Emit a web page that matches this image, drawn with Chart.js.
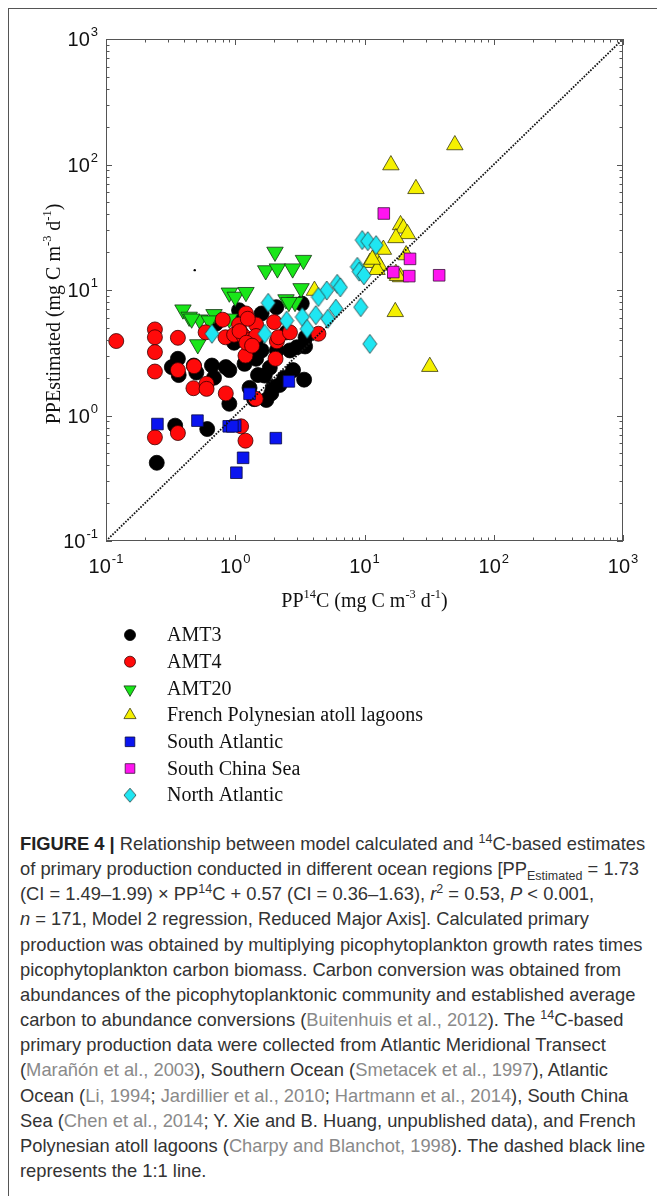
<!DOCTYPE html>
<html>
<head>
<meta charset="utf-8">
<script src="https://cdn.jsdelivr.net/npm/chart.js@4.4.1/dist/chart.umd.min.js"></script>
<style>
  html, body { margin: 0; padding: 0; background: #fff; width: 657px; height: 1196px; overflow: hidden; }
  #frame { position: absolute; left: 8px; top: 8px; width: 700px; height: 1300px;
           border-top: 1.5px solid #555; border-left: 1.5px solid #555; }
  #wrap { position: absolute; left: 0; top: 0; width: 657px; height: 820px; }
  #cap { position: absolute; left: 20px; top: 831px; font-family: "Liberation Sans", Arial, sans-serif;
         font-size: 16px; line-height: 25.15px; color: #333; white-space: nowrap; }
  #cap div { display: block; }
  #cap span.l { display: inline-block; }
  #cap .ref { color: #8a8a8a; }
  #cap b { color: #222; }
  #cap sup, #cap sub { font-size: 68%; line-height: 0; }
</style>
</head>
<body>
<div id="frame"></div>
<div id="wrap"><canvas id="grafico"></canvas></div>
<div id="cap">
  <div><span class="l"><b>FIGURE 4 |</b> Relationship between model calculated and <sup>14</sup>C-based estimates</span></div>
  <div><span class="l">of primary production conducted in different ocean regions [PP<sub>Estimated</sub> = 1.73</span></div>
  <div><span class="l">(CI = 1.49–1.99) × PP<sup>14</sup>C + 0.57 (CI = 0.36–1.63), <i>r</i><sup>2</sup> = 0.53, <i>P</i> &lt; 0.001,</span></div>
  <div><span class="l"><i>n</i> = 171, Model 2 regression, Reduced Major Axis]. Calculated primary</span></div>
  <div><span class="l" id="refline">production was obtained by multiplying picophytoplankton growth rates times</span></div>
  <div><span class="l">picophytoplankton carbon biomass. Carbon conversion was obtained from</span></div>
  <div><span class="l">abundances of the picophytoplanktonic community and established average</span></div>
  <div><span class="l">carbon to abundance conversions (<span class="ref">Buitenhuis et al., 2012</span>). The <sup>14</sup>C-based</span></div>
  <div><span class="l">primary production data were collected from Atlantic Meridional Transect</span></div>
  <div><span class="l">(<span class="ref">Marañón et al., 2003</span>), Southern Ocean (<span class="ref">Smetacek et al., 1997</span>), Atlantic</span></div>
  <div><span class="l">Ocean (<span class="ref">Li, 1994</span>; <span class="ref">Jardillier et al., 2010</span>; <span class="ref">Hartmann et al., 2014</span>), South China</span></div>
  <div><span class="l">Sea (<span class="ref">Chen et al., 2014</span>; Y. Xie and B. Huang, unpublished data), and French</span></div>
  <div><span class="l">Polynesian atoll lagoons (<span class="ref">Charpy and Blanchot, 1998</span>). The dashed black line</span></div>
  <div><span class="l">represents the 1:1 line.</span></div>
</div>
<script>
// ---- datos: [PP14C, PPEstimated] ----
const amt3 = [
  [0.247, 0.42], [0.343, 0.83], [0.607, 0.78], [0.90, 1.24], [1.74, 1.33], [1.4, 1.35],
  [3.41, 1.93], [1.96, 1.68], [1.29, 1.66], [1.69, 2.08], [1.85, 2.4], [2.4, 2.0],
  [0.36, 2.83], [0.323, 2.43], [0.365, 2.1], [0.478, 2.5], [0.50, 2.2], [0.66, 2.5],
  [0.685, 2.0], [0.845, 2.43], [0.90, 2.3], [1.18, 2.58], [1.45, 2.83], [1.5, 2.1],
  [2.65, 3.3], [3.47, 3.55], [3.0, 3.5], [2.1, 3.3], [1.6, 3.3], [1.3, 3.3], [0.98, 3.8],
  [2.08, 7.3], [3.27, 7.8], [1.07, 6.9], [1.6, 6.5], [0.71, 5.4], [1.1, 4.6], [2.5, 4.6],
  [1.45, 4.0], [3.5, 4.2], [2.2, 1.75], [1.9, 1.5], [2.8, 2.3]
];
const amt4 = [
  [0.12, 3.92], [0.239, 4.85], [0.239, 4.2], [0.239, 3.2], [0.239, 2.24], [0.239, 0.67],
  [0.36, 4.16], [0.36, 2.3], [0.36, 0.725], [0.48, 2.47], [0.475, 1.65], [0.6, 1.79],
  [0.6, 1.63], [0.845, 1.5], [1.11, 0.82], [1.2, 0.63], [1.44, 1.36], [1.2, 3.0],
  [2.05, 2.83], [2.1, 3.9], [2.15, 4.2], [2.0, 5.55], [2.65, 4.6], [4.4, 4.48],
  [1.21, 6.5], [1.45, 5.3], [1.07, 5.3], [0.84, 4.2], [0.98, 4.4], [1.16, 4.3],
  [1.29, 4.0], [1.45, 4.3], [1.08, 4.7], [1.22, 3.8], [0.59, 4.6], [0.8, 5.8],
  [1.25, 5.9], [1.35, 3.6]
];
const amt20 = [
  [2.03, 20.1], [3.37, 17.3], [1.72, 14.3], [2.12, 14.8], [2.78, 14.8], [0.90, 9.5],
  [1.0, 8.8], [1.21, 9.6], [3.23, 10.3], [2.47, 8.4], [2.9, 8.0], [0.394, 6.97],
  [0.44, 6.1], [0.53, 5.8], [0.685, 6.4], [0.63, 5.7], [0.90, 5.9], [0.513, 3.68],
  [0.46, 5.9], [2.6, 8.0]
];
const lagoons = [
  [50, 143], [16, 99], [25, 64], [19, 33], [20, 31], [21.5, 28], [17.5, 26], [14, 21],
  [21, 19], [12, 18], [11, 16.5], [13, 15.7], [12.5, 14.5], [17.5, 13.5], [19, 12.7],
  [18, 13], [4.1, 9.9], [17.3, 6.7], [32, 2.45], [11.5, 17.5]
];
const southAtlantic = [
  [2.6, 1.87], [1.29, 1.49], [0.25, 0.855], [0.51, 0.91], [0.89, 0.82], [1.0, 0.83],
  [0.95, 0.82], [2.06, 0.66], [1.15, 0.46], [1.02, 0.35]
];
const southChinaSea = [
  [14.1, 40.7], [22.5, 17.7], [16.7, 13.9], [22.2, 12.9], [37.8, 13.1]
];
const northAtlantic = [
  [9.6, 25], [10.6, 24.5], [12.3, 22.8], [8.8, 15.3], [9.1, 14], [9.9, 13.1], [6.15, 11.2],
  [6.5, 10.5], [5.1, 9.9], [4.4, 8.8], [6.0, 7.1], [9.35, 7.3], [1.8, 7.9], [3.3, 6.1],
  [4.2, 6.3], [5.2, 5.9], [2.5, 5.7], [3.6, 4.9], [1.69, 4.48], [0.66, 4.48], [11, 3.72]
];
const speck = [[0.486, 14.4]];       // punto suelto sin leyenda
const oneToOne = [0.1, 1000];        // línea 1:1
const decadas = [-1, 0, 1, 2, 3];    // exponentes de las marcas

const pts = arr => arr.map(([x, y]) => ({ x, y }));

// rombo alargado (estilo MATLAB)
function rombo(w, h, fill, stroke) {
  const c = document.createElement('canvas');
  c.width = w + 2; c.height = h + 2;
  const g = c.getContext('2d');
  g.beginPath();
  g.moveTo(c.width / 2, 1); g.lineTo(c.width - 1, c.height / 2);
  g.lineTo(c.width / 2, c.height - 1); g.lineTo(1, c.height / 2); g.closePath();
  g.fillStyle = fill; g.fill();
  g.strokeStyle = stroke; g.lineWidth = 0.8; g.stroke();
  return c;
}
const romboGrande = rombo(14, 19, '#1fe6f2', '#2a3a3a');
const romboChico = rombo(12, 14, '#1fe6f2', '#2a3a3a');

const serie = (label, data, style, fill, stroke, r, order, extra) => Object.assign({
  label, data: pts(data), pointStyle: style, backgroundColor: fill, borderColor: stroke,
  pointRadius: r, pointHoverRadius: r, pointBorderWidth: 0.8, order
}, extra || {});

const datasets = [
  { type: 'line', data: pts(oneToOne.map(v => [v, v])), borderColor: '#111', borderWidth: 1.8,
    borderDash: [1.6, 1.4], pointRadius: 0, order: 0, noLegend: true },
  serie('AMT3', amt3, 'circle', '#000000', '#000000', 7.5, 7, { legendR: 5.5 }),
  serie('AMT4', amt4, 'circle', '#ff0a0a', '#3a0000', 7.5, 5, { legendR: 5.5 }),
  serie('AMT20', amt20, 'triangle', '#19e619', '#143314', 9.5, 6, { rotation: 180, legendR: 7 }),
  serie('French Polynesian atoll lagoons', lagoons, 'triangle', '#f5f000', '#3a3a10', 9.5, 4, { legendR: 7 }),
  serie('South Atlantic', southAtlantic, 'rect', '#0a14f0', '#0a0a40', 8.2, 3, { legendR: 6.8 }),
  serie('South China Sea', southChinaSea, 'rect', '#ff14f0', '#3a103a', 8.2, 2, { legendR: 6.8 }),
  serie('North Atlantic', northAtlantic, romboGrande, '#1fe6f2', '#2a3a3a', 9, 1, { legendStyle: romboChico }),
  { label: '', data: pts(speck), pointStyle: 'circle', backgroundColor: '#000', borderColor: '#000',
    pointRadius: 1.2, pointBorderWidth: 0, order: 8, noLegend: true }
];

const SANS = '"Liberation Sans", Arial, sans-serif';
const SERIF = '"Liberation Serif", "Times New Roman", serif';

function potencia(ctx, e, x, y, align) {
  ctx.font = '20px ' + SANS;
  const w1 = ctx.measureText('10').width;
  ctx.font = '13px ' + SANS;
  const w2 = ctx.measureText(String(e)).width;
  const tot = w1 + w2 + 1;
  const x0 = align === 'right' ? x - tot : x - tot / 2;
  ctx.textAlign = 'left'; ctx.textBaseline = 'alphabetic';
  ctx.font = '20px ' + SANS; ctx.fillText('10', x0, y);
  ctx.font = '13px ' + SANS; ctx.fillText(String(e), x0 + w1 + 1, y - 10);
}

// texto con superíndices: segmentos [texto, esSup]
function rico(ctx, segs, size) {
  let w = 0;
  segs.forEach(([t, s]) => { ctx.font = (s ? size * 0.62 : size) + 'px ' + SERIF; w += ctx.measureText(t).width; });
  return w;
}
function dibujaRico(ctx, segs, size, x, y) {
  let cx = x;
  ctx.textAlign = 'left'; ctx.textBaseline = 'alphabetic';
  segs.forEach(([t, s]) => {
    ctx.font = (s ? size * 0.62 : size) + 'px ' + SERIF;
    ctx.fillText(t, cx, s ? y - size * 0.45 : y);
    cx += ctx.measureText(t).width;
  });
}

const tituloX = [['PP', false], ['14', true], ['C (mg C m', false], ['-3', true], [' d', false], ['-1', true], [')', false]];
const tituloY = [['PPEstimated (mg C m', false], ['-3', true], [' d', false], ['-1', true], [')', false]];

const ejesPlugin = {
  id: 'ejesPlugin',
  afterDraw(chart) {
    const { ctx, chartArea: a, scales: { x, y } } = chart;
    ctx.save();
    ctx.strokeStyle = '#555'; ctx.lineWidth = 1;
    ctx.strokeRect(a.left + 0.5, a.top + 0.5, a.right - a.left - 1, a.bottom - a.top - 1);
    ctx.beginPath();
    decadas.forEach(e => {
      for (let m = 1; m <= 9; m++) {
        const v = m * Math.pow(10, e);
        if (v > 1000 + 1e-6) break;
        const len = m === 1 ? 6 : 3.5;
        const px = Math.round(x.getPixelForValue(v)) + 0.5;
        const py = Math.round(y.getPixelForValue(v)) + 0.5;
        ctx.moveTo(px, a.bottom); ctx.lineTo(px, a.bottom - len);
        ctx.moveTo(px, a.top); ctx.lineTo(px, a.top + len);
        ctx.moveTo(a.left, py); ctx.lineTo(a.left + len, py);
        ctx.moveTo(a.right, py); ctx.lineTo(a.right - len, py);
      }
    });
    ctx.stroke();

    // etiquetas de las décadas
    ctx.fillStyle = '#111';
    decadas.forEach(e => {
      const v = Math.pow(10, e);
      potencia(ctx, e, x.getPixelForValue(v), a.bottom + 32, 'center');
      potencia(ctx, e, a.left - 8, y.getPixelForValue(v) + 7, 'right');
    });

    // títulos de los ejes
    const fs = 20;
    const wx = rico(ctx, tituloX, fs);
    dibujaRico(ctx, tituloX, fs, (a.left + a.right) / 2 - wx / 2, a.bottom + 66);
    const wy = rico(ctx, tituloY, fs);
    ctx.save();
    ctx.translate(60, 314);
    ctx.rotate(-Math.PI / 2);
    dibujaRico(ctx, tituloY, fs, -wy / 2, 0);
    ctx.restore();

    // leyenda propia (columna bajo el gráfico)
    let fila = 0;
    chart.data.datasets.forEach(ds => {
      if (ds.noLegend) return;
      const cy = 635 + fila * 26.7;
      ctx.fillStyle = ds.backgroundColor; ctx.strokeStyle = ds.borderColor; ctx.lineWidth = 0.8;
      Chart.helpers.drawPoint(ctx, {
        pointStyle: ds.legendStyle || ds.pointStyle, rotation: ds.rotation || 0,
        radius: ds.legendR || 6, borderWidth: 0.8
      }, 130, cy + (ds.rotation ? 1 : 0));
      ctx.fillStyle = '#111';
      ctx.font = '20px ' + SERIF; ctx.textAlign = 'left'; ctx.textBaseline = 'middle';
      ctx.fillText(ds.label, 167, cy + 1);
      fila++;
    });
    ctx.restore();
  }
};

const ctxGrafico = document.getElementById('grafico').getContext('2d');
new Chart(ctxGrafico, {
  type: 'scatter',
  data: { datasets },
  options: {
    responsive: true,
    maintainAspectRatio: false,
    animation: false,
    layout: { padding: { left: 106, top: 39, right: 34, bottom: 279 } },
    scales: {
      x: { type: 'logarithmic', min: 0.1, max: 1000, display: false },
      y: { type: 'logarithmic', min: 0.1, max: 1000, display: false }
    },
    plugins: { legend: { display: false }, tooltip: { enabled: false } }
  },
  plugins: [ejesPlugin]
});

// ajustar el tamaño del pie de figura al ancho de la línea de referencia
const ref = document.getElementById('refline');
const cap = document.getElementById('cap');
const objetivo = 623;
cap.style.fontSize = (16 * objetivo / ref.getBoundingClientRect().width).toFixed(2) + 'px';
</script>
</body>
</html>
